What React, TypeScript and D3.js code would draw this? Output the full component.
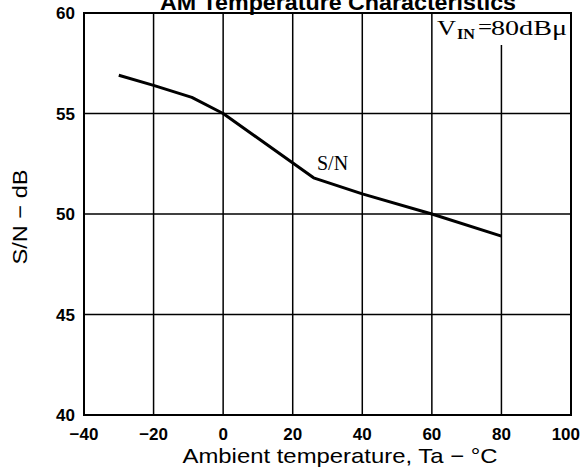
import * as d3 from 'd3';
import React from 'react';

// S/N vs ambient temperature
const temps = [-30, -20, -9, 0, 26, 40, 60, 80];
const snr = [56.9, 56.4, 55.8, 55.0, 51.8, 51.0, 50.0, 48.9];

const xTicks = [-40, -20, 0, 20, 40, 60, 80, 100];
const yTicks = [40, 45, 50, 55, 60];

const W = 583;
const H = 471;
const plot = { left: 84, right: 571, top: 13, bottom: 415 };

const sans = '"Liberation Sans", Arial, sans-serif';
const serif = '"Liberation Serif", "Times New Roman", serif';

function App() {
  const x = d3.scaleLinear().domain([-40, 100]).range([plot.left, plot.right]);
  const y = d3.scaleLinear().domain([40, 60]).range([plot.bottom, plot.top]);

  const points: [number, number][] = temps.map((t, i) => [t, snr[i]]);
  const line = d3
    .line<[number, number]>()
    .x((d) => x(d[0]))
    .y((d) => y(d[1]));

  return (
    <svg width={W} height={H} style={{ position: 'absolute', left: 0, top: 0, background: '#fff' }}>
      <rect x={0} y={0} width={W} height={H} fill="#fff" />
      {/* title sits half off the top edge, as in the scan */}
      <text
        x={338}
        y={10}
        textAnchor="middle"
        fontFamily={sans}
        fontWeight="bold"
        fontSize={22}
        textLength={356}
        lengthAdjust="spacingAndGlyphs"
      >
        AM Temperature Characteristics
      </text>

      {/* vertical grid */}
      {xTicks.slice(1, -1).map((t) => (
        <line
          key={'vx' + t}
          x1={x(t)}
          x2={x(t)}
          y1={t === 80 ? 45 : plot.top}
          y2={plot.bottom}
          stroke="#000"
          strokeWidth={1.5}
        />
      ))}
      {/* horizontal grid */}
      {yTicks.slice(1, -1).map((v) => (
        <line key={'hy' + v} x1={plot.left} x2={plot.right} y1={y(v)} y2={y(v)} stroke="#000" strokeWidth={1.5} />
      ))}
      <rect
        x={plot.left}
        y={plot.top}
        width={plot.right - plot.left}
        height={plot.bottom - plot.top}
        fill="none"
        stroke="#000"
        strokeWidth={2}
      />

      {/* curve */}
      <path d={line(points) ?? ''} fill="none" stroke="#000" strokeWidth={3} strokeLinejoin="round" />
      <text x={317} y={170} fontFamily={serif} fontSize={20}>
        S/N
      </text>

      {/* condition label */}
      <g fontFamily={serif}>
        <text x={437} y={35} fontSize={20} textLength={19} lengthAdjust="spacingAndGlyphs">
          V
        </text>
        <text x={457} y={39} fontSize={14} fontWeight="bold" textLength={18} lengthAdjust="spacingAndGlyphs">
          IN
        </text>
        <text x={478} y={34} fontSize={20} textLength={14} lengthAdjust="spacingAndGlyphs">
          =
        </text>
        <text x={491} y={35} fontSize={20} textLength={76} lengthAdjust="spacingAndGlyphs">
          80dBμ
        </text>
      </g>

      {/* y tick labels */}
      {yTicks.map((v) => (
        <text
          key={'ly' + v}
          x={75}
          y={y(v) + 6}
          textAnchor="end"
          fontFamily={sans}
          fontWeight="bold"
          fontSize={17}
        >
          {v}
        </text>
      ))}
      {/* x tick labels; the last one is pulled in so it stays on the page */}
      {xTicks.map((t, i) => {
        const last = i === xTicks.length - 1;
        return (
          <text
            key={'lx' + t}
            x={last ? W - 3 : x(t)}
            y={440}
            textAnchor={last ? 'end' : 'middle'}
            fontFamily={sans}
            fontWeight="bold"
            fontSize={17}
          >
            {t < 0 ? '−' + Math.abs(t) : t}
          </text>
        );
      })}

      <text
        x={340}
        y={463}
        textAnchor="middle"
        fontFamily={sans}
        fontSize={21}
        textLength={315}
        lengthAdjust="spacingAndGlyphs"
      >
        Ambient temperature, Ta − °C
      </text>
      <text
        transform={`translate(27, 217) rotate(-90)`}
        textAnchor="middle"
        fontFamily={sans}
        fontSize={21}
        textLength={95}
        lengthAdjust="spacingAndGlyphs"
      >
        S/N − dB
      </text>
    </svg>
  );
}

export default App;
